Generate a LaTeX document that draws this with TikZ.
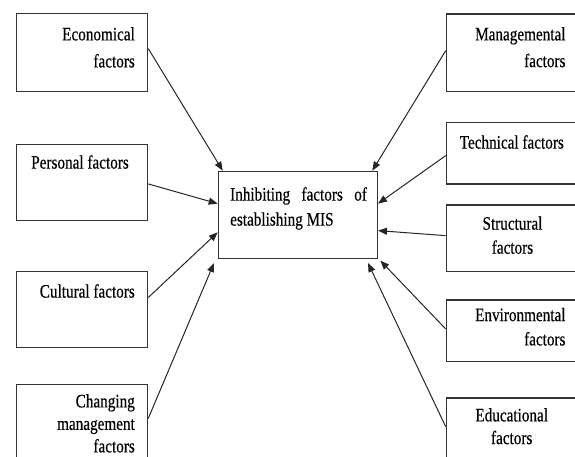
\documentclass[tikz,border=0pt]{standalone}
\usepackage{fontspec}
\newfontfamily\diagfont{Liberation Serif}[FakeStretch=0.8,FakeBold=0.4]
\usetikzlibrary{arrows.meta}
\begin{document}
\begin{tikzpicture}[x=1pt,y=-1pt,
  box/.style={draw=black!80,line width=1.3pt,rectangle,inner sep=0pt,anchor=north west},
  txt/.style={inner sep=0pt,font=\diagfont\fontsize{19}{#1}\selectfont},
  txt/.default=27,
  arr/.style={draw=black!85,line width=1pt,-{Triangle[length=9pt,width=7pt]}}]
\useasboundingbox (0,0) rectangle (575,457);
\clip (0,0) rectangle (575,457);
% boxes
\node[box,minimum width=131pt,minimum height=78pt] (eco) at (16,13) {};
\node[box,minimum width=131pt,minimum height=76pt] (per) at (16,144) {};
\node[box,minimum width=131pt,minimum height=76.3pt] (cul) at (16,270.7) {};
\node[box,minimum width=131pt,minimum height=96pt] (chg) at (16,384) {};
\node[box,minimum width=159pt,minimum height=87.3pt] (ctr) at (217.7,170.7) {};
\node[box,minimum width=145pt,minimum height=77.4pt] (man) at (445.7,13.3) {};
\node[box,minimum width=145pt,minimum height=61.6pt] (tec) at (445.7,121.7) {};
\node[box,minimum width=145pt,minimum height=66.7pt] (str) at (445.7,204.3) {};
\node[box,minimum width=145pt,minimum height=61.7pt] (env) at (445.7,299.3) {};
\node[box,minimum width=145pt,minimum height=90pt] (edu) at (445.7,397.3) {};
% texts
\node[txt=27,anchor=north east,align=right] (ecot) at (135,27) {Economical\\factors};
\node[txt,anchor=north east] (pert) at (129,155) {Personal factors};
\node[txt,anchor=north east] (cult) at (135,284) {Cultural factors};
\node[txt=22.5,anchor=north east,align=right] (chgt) at (135,394) {Changing\\management\\factors};
\node[txt=25,anchor=north west,align=left] (ctrt) at (230,187) {\makebox[136.7pt][s]{Inhibiting factors of}\\establishing MIS};
\node[txt=26.7,anchor=north east,align=right] (mant) at (565.7,27) {Managemental\\factors};
\node[txt,anchor=north east] (tect) at (564,135) {Technical factors};
\node[txt=24,anchor=north,align=center] (strt) at (512.5,216.3) {Structural\\factors};
\node[txt=24.3,anchor=north east,align=right] (envt) at (565.7,307.7) {Environmental\\factors};
\node[txt=22.7,anchor=north,align=center] (edut) at (511.7,408) {Educational\\factors};
% connectors
\draw[arr] ([shift={(0,-4)}]eco.east) -- ([shift={(5,0)}]ctr.north west);
\draw[arr] ([shift={(0,1.3)}]per.east) -- ([shift={(0,-11.35)}]ctr.west);
\draw[arr] ([shift={(0,-12)}]cul.east) -- ([shift={(0,17.3)}]ctr.west);
\draw[arr] ([shift={(0,34.3)}]chg.north east) -- ([shift={(-3.7,3.7)}]ctr.south west);
\draw[arr] ([shift={(0,-2)}]man.west) -- ([shift={(-5.7,0)}]ctr.north east);
\draw[arr] ([shift={(0,2.5)}]tec.west) -- ([shift={(0,-11.35)}]ctr.east);
\draw[arr] ([shift={(0,-2.65)}]str.west) -- ([shift={(0,15.6)}]ctr.east);
\draw[arr] ([shift={(0,-1.85)}]env.west) -- ([shift={(2.3,1.3)}]ctr.south east);
\draw[arr] ([shift={(0,29.4)}]edu.north west) -- ([shift={(-10,3.7)}]ctr.south east);
\end{tikzpicture}
\end{document}
